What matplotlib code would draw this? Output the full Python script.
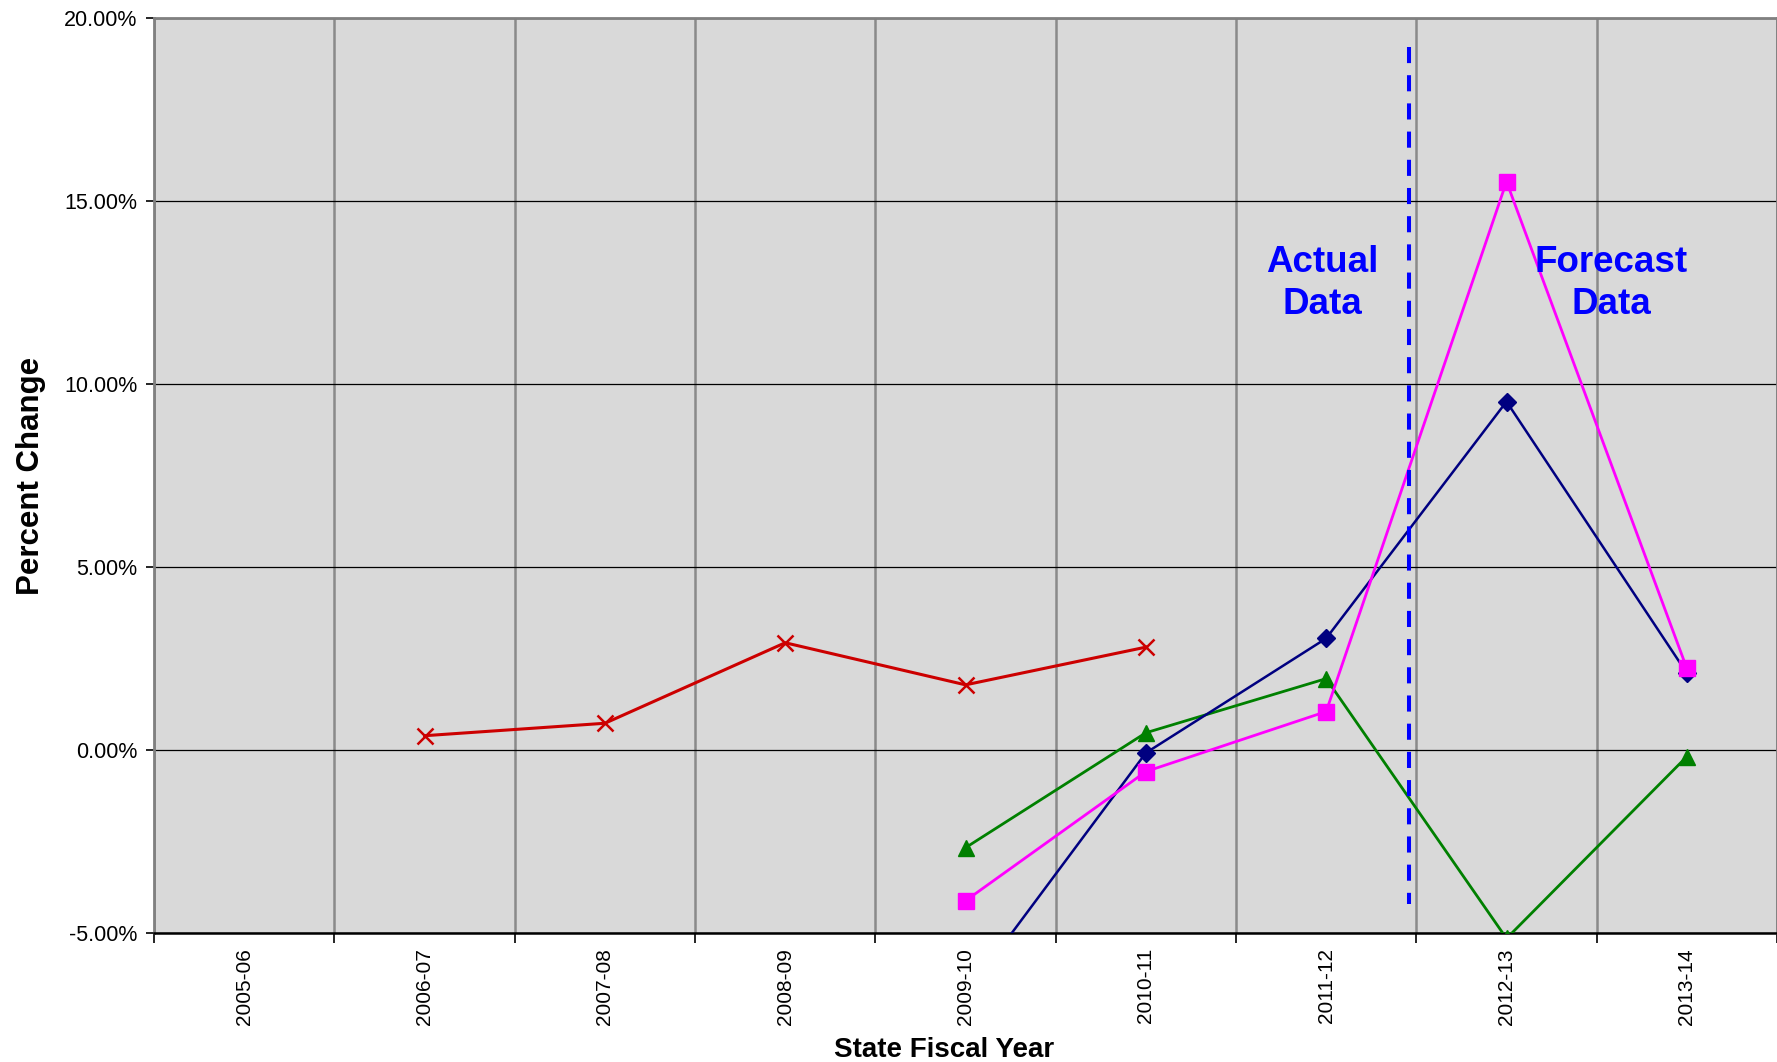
import matplotlib
matplotlib.use('Agg')
import matplotlib.pyplot as plt
import numpy as np
from matplotlib.ticker import FuncFormatter, MultipleLocator

plt.rcParams['font.family'] = ['Liberation Sans', 'DejaVu Sans']

# State fiscal years on the x axis
years = ['2005-06', '2006-07', '2007-08', '2008-09', '2009-10',
         '2010-11', '2011-12', '2012-13', '2013-14']

# percent change per series (None = no value)
red_vals = [None, 0.39, 0.73, 2.93, 1.78, 2.81, None, None, None]
navy_vals = [None, None, None, None, -6.7, -0.08, 3.05, 9.52, 2.10]
magenta_vals = [None, None, None, None, -4.12, -0.59, 1.05, 15.53, 2.23]
green_vals = [None, None, None, None, -2.67, 0.47, 1.95, -5.15, -0.18]

# actual / forecast divider sits between 2011-12 and 2012-13
divider_x = 6.462


def to_arr(vals):
    return np.array([np.nan if v is None else v for v in vals], dtype=float)


x = np.arange(len(years))

fig = plt.figure(figsize=(17.77, 10.62), dpi=100)
ax = fig.add_axes([0.0867, 0.1215, 0.9133, 0.8615])
ax.set_facecolor('#D9D9D9')

ax.plot(x, to_arr(red_vals), color='#CC0000', lw=2.2, marker='x', ms=11, mew=1.8, zorder=4)
ax.plot(x, to_arr(green_vals), color='#008000', lw=2.0, marker='^', ms=11, zorder=4)
ax.plot(x, to_arr(navy_vals), color='#000080', lw=1.8, marker='D', ms=9, zorder=5)
ax.plot(x, to_arr(magenta_vals), color='#FF00FF', lw=2.0, marker='s', ms=11, zorder=5)

# dashed divider
ax.plot([divider_x, divider_x], [19.2, -4.2], color='#0000FF', lw=2.9,
        dashes=(4, 3), dash_capstyle='butt', zorder=6)

ax.text(5.98, 12.75, 'Actual\nData', color='#0000FF', fontsize=26.5, fontweight='bold',
        ha='center', va='center', linespacing=1.27, zorder=7)
ax.text(7.58, 12.75, 'Forecast\nData', color='#0000FF', fontsize=26.5, fontweight='bold',
        ha='center', va='center', linespacing=1.27, zorder=7)

ax.set_xlim(-0.5, len(years) - 0.5)
ax.set_ylim(-5, 20)

ax.yaxis.set_major_locator(MultipleLocator(5))
ax.yaxis.set_major_formatter(FuncFormatter(lambda v, p: '%.2f%%' % v))
ax.grid(axis='y', color='black', lw=0.9, zorder=1)

ax.set_xticks(x)
ax.set_xticklabels(years, rotation=90)
ax.set_xticks(np.arange(-0.5, len(years)), minor=True)
ax.grid(axis='x', which='minor', color='#8A8A8A', lw=1.8, zorder=1)
ax.tick_params(axis='x', which='major', length=0, pad=11, labelsize=15)
ax.tick_params(axis='x', which='minor', length=7, width=1.2, color='black')
ax.tick_params(axis='y', length=6, width=1.2, pad=6, labelsize=15.5)
ax.set_axisbelow(True)

for side in ['left', 'top', 'right']:
    ax.spines[side].set_color('#808080')
    ax.spines[side].set_linewidth(2)
ax.spines['bottom'].set_color('black')
ax.spines['bottom'].set_linewidth(1.8)

ax.set_ylabel('Percent Change', fontsize=22.5, fontweight='bold')
ax.set_xlabel('State Fiscal Year', fontsize=20, fontweight='bold')
ax.yaxis.set_label_coords(-0.0667, 0.5)
ax.xaxis.set_label_coords(0.487, -0.114)

fig.savefig('out.png', dpi=100)
